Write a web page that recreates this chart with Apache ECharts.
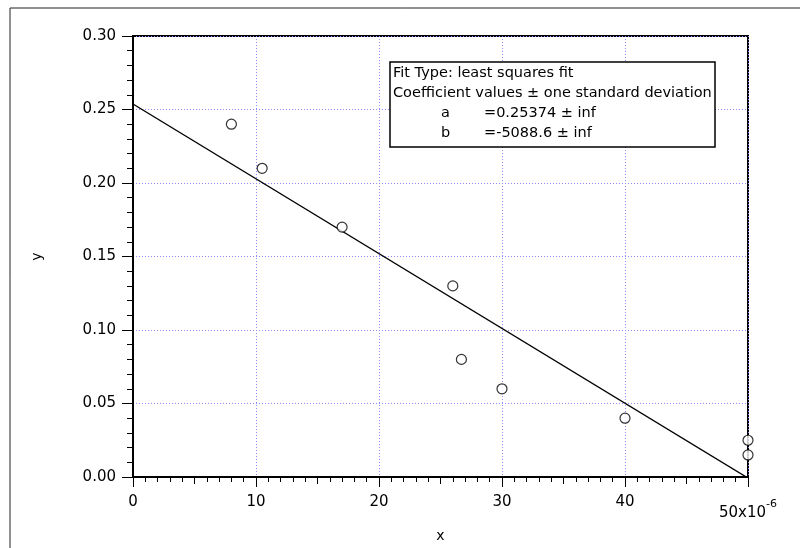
<!DOCTYPE html>
<html>
<head>
<meta charset="utf-8">
<script src="https://cdn.jsdelivr.net/npm/echarts@6/dist/echarts.min.js"></script>
<style>html,body{margin:0;padding:0;background:#fff}#c{width:800px;height:548px}</style>
</head>
<body>
<div id="c"></div>
<script>
// x values in units of 1e-6
const xValues = [8, 10.5, 17, 26, 26.7, 30, 40, 50, 50];
const yValues = [0.24, 0.21, 0.17, 0.13, 0.08, 0.06, 0.04, 0.025, 0.015];
// fit line endpoints (x in units of 1e-6): y = a + b*x
const fitLineX = [0, 50];
const fitLineY = [0.25374, -0.00069];
const xTicks = [0, 10, 20, 30, 40, 50];
const yTicks = [0, 0.05, 0.10, 0.15, 0.20, 0.25, 0.30];
const fitTitleLines = ['Fit Type: least squares fit', 'Coefficient values \u00B1 one standard deviation'];
const coefNames = ['a', 'b'];
const coefValues = ['=0.25374 \u00B1 inf', '=-5088.6 \u00B1 inf'];

const FONT = 'DejaVu Sans';
const chart = echarts.init(document.getElementById('c'), null, {renderer: 'canvas'});

const boxX = 390, boxY = 62, lineH = 20;
const LF = '14.5px "' + FONT + '"';
const graphics = [
  {type: 'rect', shape: {x: 10, y: 8, width: 820, height: 600}, style: {fill: 'none', stroke: '#222', lineWidth: 1}, silent: true, z: 0},
  {type: 'rect', shape: {x: boxX, y: boxY, width: 325, height: 85}, style: {fill: '#fff', stroke: '#000', lineWidth: 1.5}, z: 100}
];
fitTitleLines.forEach((t, i) => graphics.push({type: 'text', x: boxX + 3, y: boxY + 11 + i * lineH,
  style: {text: t, font: LF, fill: '#000', verticalAlign: 'middle'}, z: 101}));
coefNames.forEach((n, i) => {
  graphics.push({type: 'text', x: boxX + 51, y: boxY + 11 + (i + 2) * lineH,
    style: {text: n, font: LF, fill: '#000', verticalAlign: 'middle'}, z: 101});
  graphics.push({type: 'text', x: boxX + 94, y: boxY + 11 + (i + 2) * lineH,
    style: {text: coefValues[i], font: LF, fill: '#000', verticalAlign: 'middle'}, z: 101});
});

chart.setOption({
  animation: false,
  backgroundColor: '#fff',
  textStyle: {fontFamily: FONT},
  grid: {left: 133, top: 36, width: 615, height: 443, show: true, borderColor: '#000', borderWidth: 2, backgroundColor: 'transparent'},
  xAxis: [{
    type: 'value', min: xTicks[0], max: xTicks[xTicks.length - 1], interval: 10,
    name: 'x', nameLocation: 'middle', nameGap: 52,
    nameTextStyle: {fontSize: 14, color: '#000', fontFamily: FONT},
    axisLine: {show: true, onZero: false, lineStyle: {color: '#000', width: 2}},
    axisTick: {show: true, inside: false, length: 10, lineStyle: {color: '#000', width: 1}},
    minorTick: {show: true, splitNumber: 10, length: 5, lineStyle: {color: '#000', width: 1}},
    splitLine: {show: true, lineStyle: {color: '#8c8cff', type: [1, 2], width: 1}},
    axisLabel: {
      margin: 18, fontSize: 15, color: '#000', fontFamily: FONT,
      formatter: v => v === 50 ? '{b|50x10}{s|-6}' : '{n|' + v + '}',
      rich: {
        n: {fontSize: 15, fontFamily: FONT, color: '#000'},
        b: {fontSize: 15, fontFamily: FONT, color: '#000', padding: [11, 0, 0, 0]},
        s: {fontSize: 11, fontFamily: FONT, color: '#000', verticalAlign: 'top', padding: [4, 0, 0, 0]}
      }
    }
  }, {
    type: 'value', position: 'bottom', min: xTicks[0], max: xTicks[xTicks.length - 1], interval: 5,
    axisLine: {show: false, onZero: false},
    axisTick: {show: true, inside: false, length: 7, lineStyle: {color: '#000', width: 1}},
    axisLabel: {show: false}, splitLine: {show: false}
  }],
  yAxis: {
    type: 'value', min: yTicks[0], max: yTicks[yTicks.length - 1], interval: 0.05,
    name: 'y', nameLocation: 'middle', nameGap: 89,
    nameTextStyle: {fontSize: 14, color: '#000', fontFamily: FONT},
    axisLine: {show: true, onZero: false, lineStyle: {color: '#000', width: 2}},
    axisTick: {show: true, inside: false, length: 11, lineStyle: {color: '#000', width: 1}},
    minorTick: {show: true, splitNumber: 5, length: 6, lineStyle: {color: '#000', width: 1}},
    splitLine: {show: true, lineStyle: {color: '#8c8cff', type: [1, 2], width: 1}},
    axisLabel: {margin: 17, fontSize: 15, color: '#000', fontFamily: FONT, formatter: v => v.toFixed(2)}
  },
  graphic: graphics,
  series: [
    {
      type: 'line', data: fitLineX.map((x, i) => [x, fitLineY[i]]),
      symbol: 'none', clip: true, lineStyle: {color: '#000', width: 1.4}, z: 3, silent: true
    },
    {
      type: 'scatter', data: xValues.map((x, i) => [x, yValues[i]]),
      symbol: 'circle', symbolSize: 10, clip: false,
      itemStyle: {color: '#fff', borderColor: '#000', borderWidth: 1.2}, z: 4, silent: true
    }
  ]
});
</script>
</body>
</html>
